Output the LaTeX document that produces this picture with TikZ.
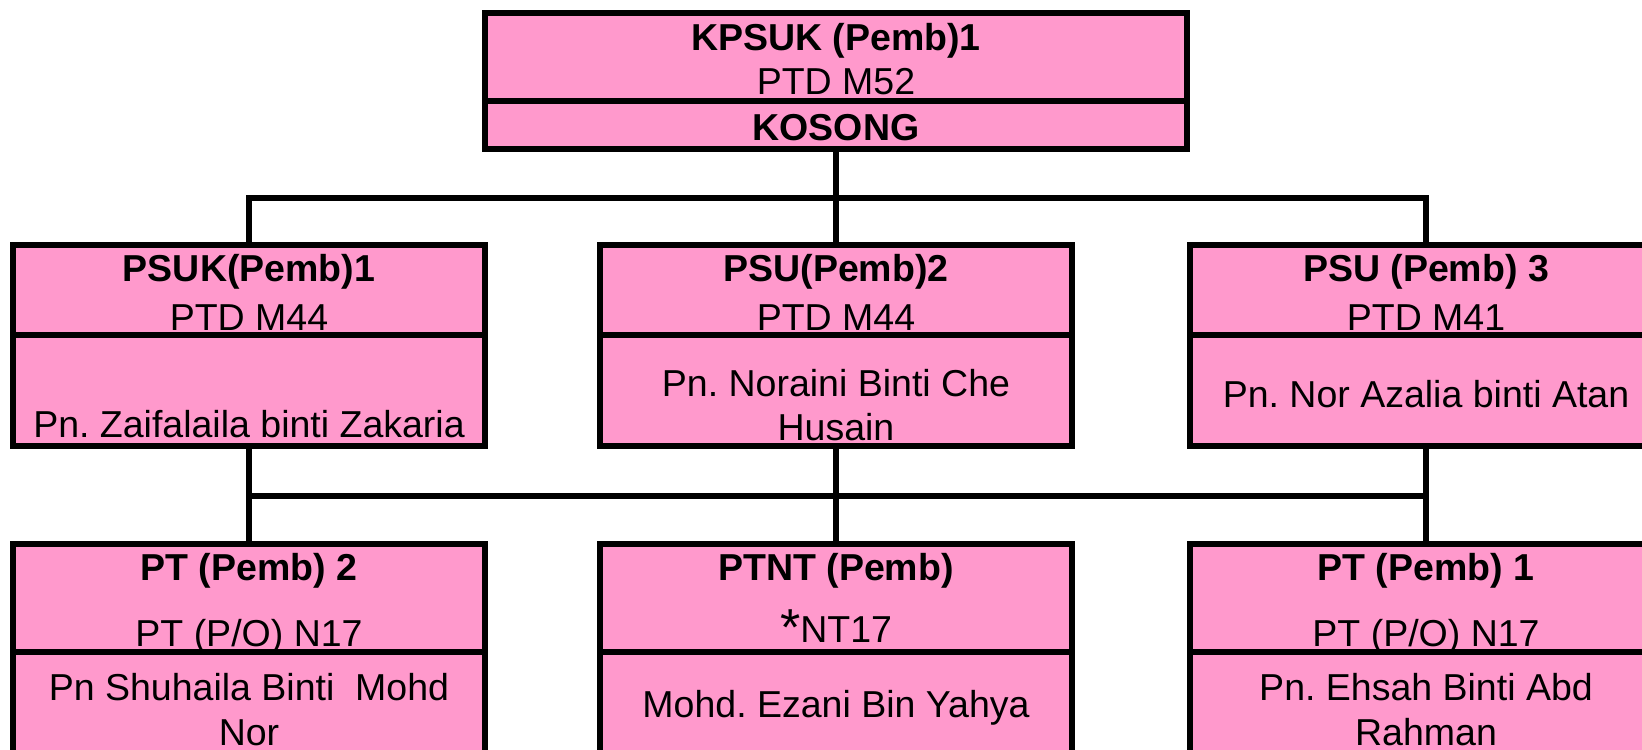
\documentclass[tikz,border=0pt]{standalone}
\usepackage{fontspec}
\setmainfont{Liberation Sans}
\definecolor{boxpink}{RGB}{255,153,204}
\tikzset{
  orgbox/.style={draw=black, fill=boxpink, line width=6pt, rectangle, inner sep=0pt, minimum width=472pt},
  divider/.style={draw=black, line width=6pt},
  conn/.style={draw=black, line width=5.5pt},
  lbl/.style={anchor=base, inner sep=0pt, font=\fontsize{37.5}{45}\selectfont},
  hd/.style={anchor=base, inner sep=0pt, font=\fontsize{37.5}{45}\selectfont\bfseries},
}
\begin{document}
\frenchspacing
\begin{tikzpicture}[x=1pt,y=-1pt]
\useasboundingbox (0,0) rectangle (1642,750);
\clip (0,0) rectangle (1642,750);
\fill[white] (0,0) rectangle (1642,750);

% boxes
\node[orgbox, minimum width=702pt, minimum height=136pt] (top) at (836,81) {};
\node[orgbox, minimum height=201pt] (psuk) at (249,345.5) {};
\node[orgbox, minimum height=201pt] (psu2) at (836,345.5) {};
\node[orgbox, minimum height=201pt] (psu3) at (1426,345.5) {};
\node[orgbox, minimum height=256pt] (pt2) at (249,672) {};
\node[orgbox, minimum height=256pt] (ptnt) at (836,672) {};
\node[orgbox, minimum height=256pt] (pt1) at (1426,672) {};

% dividers
\draw[divider] ([yshift=-91pt]top.north west) -- ([yshift=-91pt]top.north east);
\foreach \b in {psuk,psu2,psu3}{
  \draw[divider] ([yshift=-93pt]\b.north west) -- ([yshift=-93pt]\b.north east);
}
\foreach \b in {pt2,ptnt,pt1}{
  \draw[divider] ([yshift=-111pt]\b.north west) -- ([yshift=-111pt]\b.north east);
}

% connectors
\coordinate (b1l) at (249,198);
\coordinate (b1r) at (1426,198);
\coordinate (b2l) at (249,496);
\coordinate (b2r) at (1426,496);
\draw[conn] (psuk.north) -- (b1l) -- (b1r) -- (psu3.north);
\draw[conn] (top.south) -- (psu2.north);
\draw[conn] (psuk.south) -- (pt2.north);
\draw[conn] (psu2.south) -- (ptnt.north);
\draw[conn] (psu3.south) -- (pt1.north);
\draw[conn] (b2l) -- (b2r);

% top box text
\node[hd] (t1) at (836,50) {KPSUK (Pemb)1};
\node[lbl] (t2) at (836,94) {PTD M52};
\node[hd] (t3) at (836,140) {KOSONG};

% row 2 text
\node[hd] (a1) at (249,281) {PSUK(Pemb)1};
\node[lbl] (a2) at (249,330) {PTD M44};
\node[lbl] (a3) at (249,437.5) {Pn. Zaifalaila binti Zakaria};

\node[hd] (m1) at (836,281) {PSU(Pemb)2};
\node[lbl] (m2) at (836,330) {PTD M44};
\node[lbl] (m3) at (836,396) {Pn. Noraini Binti Che};
\node[lbl] (m4) at (836,440) {Husain};

\node[hd] (r1) at (1426,281) {PSU (Pemb) 3};
\node[lbl] (r2) at (1426,330) {PTD M41};
\node[lbl] (r3) at (1426,407) {Pn. Nor Azalia binti Atan};

% row 3 text
\node[hd] (c1) at (249,580.5) {PT (Pemb) 2};
\node[lbl] (c2) at (249,646) {PT (P/O) N17};
\node[lbl] (c3) at (249,700) {Pn Shuhaila Binti\ \ Mohd};
\node[lbl] (c4) at (249,745) {Nor};

\node[hd] (n1) at (836,580.5) {PTNT (Pemb)};
\node[lbl] (n2) at (836,642.5) {{\fontsize{52}{52}\selectfont\raisebox{-3pt}{*}}NT17};
\node[lbl] (n3) at (836,717.5) {Mohd. Ezani Bin Yahya};

\node[hd] (e1) at (1426,580.5) {PT (Pemb) 1};
\node[lbl] (e2) at (1426,646) {PT (P/O) N17};
\node[lbl] (e3) at (1426,700) {Pn. Ehsah Binti Abd};
\node[lbl] (e4) at (1426,745) {Rahman};
\end{tikzpicture}
\end{document}
